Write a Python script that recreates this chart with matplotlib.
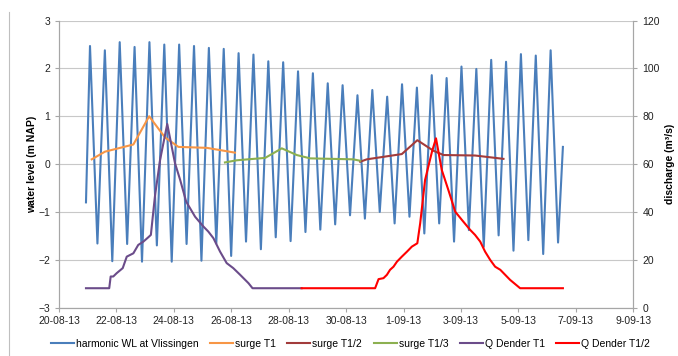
import datetime as dt
import matplotlib
matplotlib.use('Agg')
import matplotlib.pyplot as plt
import matplotlib.dates as mdates
from matplotlib.lines import Line2D
from matplotlib.ticker import FixedLocator, FuncFormatter

plt.rcParams['font.family'] = ['Liberation Sans', 'DejaVu Sans']

T0 = dt.datetime(2013, 8, 20)

# harmonic water level: read-off high / low waters (m NAP)
wl_start = (0.94, -0.80)          # (day, value) first point
wl_first_high = 1.08              # day of first high water
wl_period = 12.42 / 24.0          # M2 period, days
wl_high = [2.47, 2.38, 2.55, 2.45, 2.55, 2.50, 2.50, 2.47, 2.43, 2.41, 2.32,
           2.29, 2.15, 2.13, 1.94, 1.90, 1.69, 1.65, 1.44, 1.55, 1.41, 1.67,
           1.60, 1.86, 1.80, 2.04, 1.99, 2.18, 2.14, 2.30, 2.27, 2.38]
wl_low = [-1.66, -2.03, -1.67, -2.04, -1.70, -2.04, -1.67, -2.02, -1.66, -1.92,
          -1.62, -1.78, -1.53, -1.61, -1.42, -1.37, -1.26, -1.07, -1.14, -1.00,
          -1.24, -1.10, -1.45, -1.24, -1.62, -1.38, -1.73, -1.49, -1.81, -1.59,
          -1.88, -1.64]
wl_end = (17.55, 0.36)

# surges (m)
s1_day = [1.14, 1.60, 2.59, 3.14, 3.69, 4.16, 5.15, 6.13]
s1_val = [0.10, 0.26, 0.41, 1.00, 0.56, 0.36, 0.34, 0.24]
s2_day = [10.49, 10.72, 11.94, 12.48, 13.04, 13.39, 14.49, 15.48]
s2_val = [0.05, 0.10, 0.21, 0.50, 0.28, 0.19, 0.18, 0.11]
s3_day = [5.78, 6.19, 7.18, 7.76, 8.28, 8.75, 10.25, 10.49]
s3_val = [0.035, 0.08, 0.13, 0.33, 0.19, 0.12, 0.10, 0.07]

# Dender discharge (m3/s)
q1_day = [0.94, 1.75, 1.80, 1.89, 2.01, 2.22, 2.36, 2.59, 2.76, 2.94, 3.11,
          3.20, 3.34, 3.52, 3.77, 4.04, 4.22, 4.43, 4.74, 5.03, 5.20, 5.38,
          5.61, 5.84, 6.07, 6.31, 6.60, 6.74, 8.45]
q1_val = [8.1, 8.1, 13.0, 13.0, 14.4, 16.5, 21.3, 22.7, 26.2, 27.6, 29.4,
          30.4, 46.4, 61.7, 76.8, 60.4, 53.4, 44.3, 38.0, 33.9, 31.8, 29.0,
          23.4, 18.6, 16.5, 13.7, 10.2, 8.1, 8.1]
q2_day = [8.45, 11.01, 11.13, 11.30, 11.42, 11.53, 11.65, 11.77, 11.94, 12.12,
          12.29, 12.48, 12.58, 12.75, 12.99, 13.13, 13.33, 13.56, 13.80, 14.03,
          14.32, 14.49, 14.67, 14.84, 15.02, 15.19, 15.37, 15.54, 15.71, 16.06,
          17.55]
q2_val = [8.1, 8.1, 11.9, 12.3, 13.7, 15.8, 17.1, 19.2, 21.3, 23.4, 25.5,
          26.9, 35.3, 53.4, 65.2, 70.8, 57.6, 49.2, 40.1, 36.7, 32.5, 30.4,
          27.6, 23.4, 19.9, 17.1, 15.8, 13.7, 11.6, 8.1, 8.1]


def to_dates(days):
    return [T0 + dt.timedelta(days=d) for d in days]


# assemble tide line from extremes
wl_day = [wl_start[0]]
wl_val = [wl_start[1]]
for k, (hi, lo) in enumerate(zip(wl_high, wl_low)):
    wl_day += [wl_first_high + k * wl_period, wl_first_high + (k + 0.5) * wl_period]
    wl_val += [hi, lo]
wl_day.append(wl_end[0])
wl_val.append(wl_end[1])

fig = plt.figure(figsize=(6.78, 3.56), dpi=100)
ax = fig.add_axes([0.087, 0.136, 0.847, 0.806])
ax2 = ax.twinx()

lw = 1.5
ax.plot(to_dates(wl_day), wl_val, color='#4A7EBB', lw=lw, label='harmonic WL at Vlissingen')
ax.plot(to_dates(s1_day), s1_val, color='#F79646', lw=lw, label='surge T1')
ax.plot(to_dates(s2_day), s2_val, color='#A23B3B', lw=lw, label='surge T1/2')
ax.plot(to_dates(s3_day), s3_val, color='#8CB050', lw=lw, label='surge T1/3')
ax2.plot(to_dates(q1_day), q1_val, color='#6B4C8A', lw=lw, label='Q Dender T1')
ax2.plot(to_dates(q2_day), q2_val, color='#FF0000', lw=lw, label='Q Dender T1/2')

ax.set_ylim(-3, 3)
ax.set_yticks(range(-3, 4))
ax2.set_ylim(0, 120)
ax2.set_yticks(range(0, 121, 20))
ax.set_xlim(T0, T0 + dt.timedelta(days=20))
xt = [mdates.date2num(T0 + dt.timedelta(days=2 * k)) for k in range(11)]
ax.xaxis.set_major_locator(FixedLocator(xt))
ax.xaxis.set_major_formatter(FuncFormatter(
    lambda x, pos: (lambda d: f'{d.day}-{d:%m-%y}')(mdates.num2date(x))))

ax.grid(axis='y', color='#C8C8C8', lw=0.8)
ax.set_axisbelow(True)
for a in (ax, ax2):
    for s in a.spines.values():
        s.set_color('#A6A6A6')
    a.spines['top'].set_visible(False)
    a.tick_params(colors='#A6A6A6', labelcolor='#222222', labelsize=7.5, length=3)
ax.tick_params(axis='x', pad=3)

ax.set_ylabel('water level (m NAP)', fontsize=7.5, fontweight='bold', labelpad=1)
ax2.set_ylabel('discharge (m³/s)', fontsize=7.5, fontweight='bold', labelpad=4)

h1, l1 = ax.get_legend_handles_labels()
h2, l2 = ax2.get_legend_handles_labels()
fig.legend(h1 + h2, l1 + l2, loc='center', bbox_to_anchor=(0.517, 0.035), ncol=6,
           frameon=False, fontsize=7.5, handlelength=2.2, handletextpad=0.2,
           columnspacing=1.1)

fig.add_artist(Line2D([0.013, 0.013], [0.0, 0.965], color='#BFBFBF', lw=0.8))

fig.savefig('out.png', dpi=100)
